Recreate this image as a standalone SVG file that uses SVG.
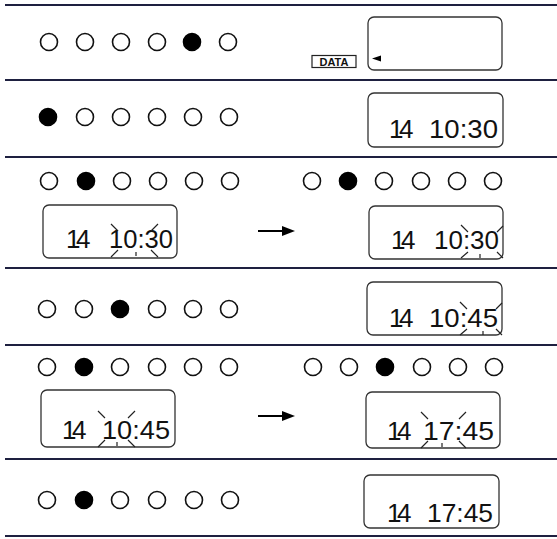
<svg xmlns="http://www.w3.org/2000/svg" width="557" height="539" viewBox="0 0 557 539">
<defs>
<style>
.sep{stroke:#1e2040;stroke-width:2;fill:none}
.c{fill:#fff;stroke:#111;stroke-width:1.6}
.f{fill:#000;stroke:#000;stroke-width:1.6}
.box{fill:#fff;stroke:#333;stroke-width:1.3}
.lcd{font-family:"Liberation Sans",Arial,sans-serif;font-size:26px;fill:#111}
.ray{stroke:#222;stroke-width:1.2;fill:none}
.data{font-family:"Liberation Sans",Arial,sans-serif;font-size:11px;font-weight:bold;fill:#111}
.arr{stroke:#000;stroke-width:2;fill:none}
</style>
</defs>
<rect width="557" height="539" fill="#fff"/>
<g id="separators">
<line class="sep" x1="5" y1="5" x2="557" y2="5"/>
<line class="sep" x1="5" y1="80" x2="557" y2="80"/>
<line class="sep" x1="5" y1="157" x2="557" y2="157"/>
<line class="sep" x1="5" y1="268" x2="557" y2="268"/>
<line class="sep" x1="5" y1="345" x2="557" y2="345"/>
<line class="sep" x1="5" y1="459" x2="557" y2="459"/>
<line class="sep" x1="5" y1="536" x2="557" y2="536"/>
</g>
<g id="row1">
<circle class="c" cx="49" cy="42" r="8.5"/><circle class="c" cx="85" cy="42" r="8.5"/><circle class="c" cx="121" cy="42" r="8.5"/><circle class="c" cx="157" cy="42" r="8.5"/><circle class="f" cx="192" cy="42" r="8.5"/><circle class="c" cx="228" cy="42" r="8.5"/>
<rect x="312" y="55.5" width="44" height="12" fill="#fff" stroke="#222" stroke-width="1.2"/>
<text class="data" x="334" y="65.5" text-anchor="middle">DATA</text>
<rect class="box" x="368" y="17" width="134" height="53" rx="6"/>
<polygon points="372,58.5 381,55.5 381,61.5" fill="#000"/>
</g>
<g id="row2">
<circle class="f" cx="48" cy="117" r="8.5"/><circle class="c" cx="85" cy="117" r="8.5"/><circle class="c" cx="121" cy="117" r="8.5"/><circle class="c" cx="157" cy="117" r="8.5"/><circle class="c" cx="193" cy="117" r="8.5"/><circle class="c" cx="229" cy="117" r="8.5"/>
<rect class="box" x="368" y="93" width="135" height="54" rx="6"/>
<text class="lcd" x="389 399" y="138">14</text>
<text class="lcd" x="429" y="138" textLength="69" lengthAdjust="spacingAndGlyphs">10:30</text>
</g>
<g id="row3-left">
<circle class="c" cx="49" cy="181" r="8.5"/><circle class="f" cx="86" cy="181" r="8.5"/><circle class="c" cx="122" cy="181" r="8.5"/><circle class="c" cx="158" cy="181" r="8.5"/><circle class="c" cx="194" cy="181" r="8.5"/><circle class="c" cx="230" cy="181" r="8.5"/>
<rect class="box" x="43" y="205" width="134" height="53" rx="6"/>
<text class="lcd" x="66 76" y="248">14</text>
<text class="lcd" x="109" y="248" textLength="64" lengthAdjust="spacingAndGlyphs">10:30</text>
<path class="ray" d="M118,231 L111,224 M151,231 L158,224 M118,250 L111,257 M151,250 L158,257 M136,252 L136,256"/>
</g>
<g id="row3-right">
<circle class="c" cx="312" cy="181" r="8.5"/><circle class="f" cx="348" cy="181" r="8.5"/><circle class="c" cx="384" cy="181" r="8.5"/><circle class="c" cx="421" cy="181" r="8.5"/><circle class="c" cx="457" cy="181" r="8.5"/><circle class="c" cx="493" cy="181" r="8.5"/>
<rect class="box" x="369" y="206" width="134" height="53" rx="6"/>
<text class="lcd" x="391 401" y="249">14</text>
<text class="lcd" x="434" y="249" textLength="65" lengthAdjust="spacingAndGlyphs">10:30</text>
<path class="ray" d="M468,232 L461,225 M497,232 L503,226 M468,252 L461,258 M497,252 L503,258 M480,254 L480,258"/>
</g>
<g id="row4">
<circle class="c" cx="47" cy="309" r="8.5"/><circle class="c" cx="84" cy="309" r="8.5"/><circle class="f" cx="120" cy="309" r="8.5"/><circle class="c" cx="157" cy="309" r="8.5"/><circle class="c" cx="193" cy="309" r="8.5"/><circle class="c" cx="229" cy="309" r="8.5"/>
<rect class="box" x="367" y="282" width="135" height="53" rx="6"/>
<text class="lcd" x="389 399" y="327">14</text>
<text class="lcd" x="429" y="327" textLength="69" lengthAdjust="spacingAndGlyphs">10:45</text>
<path class="ray" d="M467,309 L460,302 M496,309 L502,303 M467,329 L460,335 M496,329 L502,335 M483,331 L483,335"/>
</g>
<g id="row5-left">
<circle class="c" cx="47" cy="367" r="8.5"/><circle class="f" cx="84" cy="367" r="8.5"/><circle class="c" cx="120" cy="367" r="8.5"/><circle class="c" cx="157" cy="367" r="8.5"/><circle class="c" cx="193" cy="367" r="8.5"/><circle class="c" cx="229" cy="367" r="8.5"/>
<rect class="box" x="41" y="390" width="134" height="57" rx="6"/>
<text class="lcd" x="62 72" y="439">14</text>
<text class="lcd" x="102" y="439" textLength="68" lengthAdjust="spacingAndGlyphs">10:45</text>
<path class="ray" d="M105,418 L98,411 M128,418 L135,411 M105,440 L98,447 M128,440 L135,447 M117,442 L117,446"/>
</g>
<g id="row5-right">
<circle class="c" cx="313" cy="367" r="8.5"/><circle class="c" cx="349" cy="367" r="8.5"/><circle class="f" cx="385" cy="367" r="8.5"/><circle class="c" cx="422" cy="367" r="8.5"/><circle class="c" cx="458" cy="367" r="8.5"/><circle class="c" cx="494" cy="367" r="8.5"/>
<rect class="box" x="366" y="392" width="134" height="56" rx="6"/>
<text class="lcd" x="387 397" y="440">14</text>
<text class="lcd" x="423" y="440" textLength="71" lengthAdjust="spacingAndGlyphs">17:45</text>
<path class="ray" d="M428,419 L421,412 M459,419 L466,412 M428,441 L421,448 M459,441 L466,448 M442,443 L442,447"/>
</g>
<g id="row6">
<circle class="c" cx="47" cy="500" r="8.5"/><circle class="f" cx="84" cy="500" r="8.5"/><circle class="c" cx="120" cy="500" r="8.5"/><circle class="c" cx="157" cy="500" r="8.5"/><circle class="c" cx="194" cy="500" r="8.5"/><circle class="c" cx="230" cy="500" r="8.5"/>
<rect class="box" x="364" y="475" width="135" height="53" rx="6"/>
<text class="lcd" x="387 397" y="522">14</text>
<text class="lcd" x="427" y="522" textLength="66" lengthAdjust="spacingAndGlyphs">17:45</text>
</g>
<g id="connectors">
<line class="arr" x1="258" y1="231" x2="284" y2="231"/>
<polygon points="282,226 295,231 282,236" fill="#000"/>
<line class="arr" x1="258" y1="416" x2="284" y2="416"/>
<polygon points="282,411 295,416 282,421" fill="#000"/>
</g>
</svg>
